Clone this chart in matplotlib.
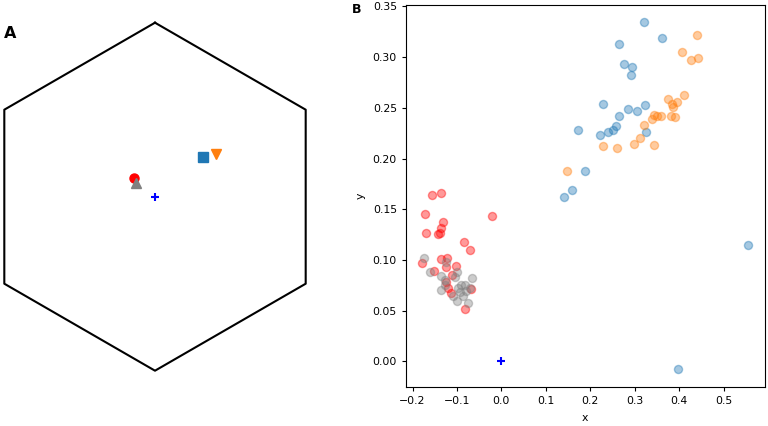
import numpy as np
import matplotlib
matplotlib.use("Agg")
import matplotlib.pyplot as plt

# --- data (panel B) ---
red_x = [-0.156, -0.136, -0.173, -0.131, -0.135, -0.139, -0.142, -0.169, -0.021, -0.085,
         -0.071, -0.135, -0.122, -0.178, -0.151, -0.125, -0.103, -0.112, -0.124, -0.120,
         -0.114, -0.069, -0.082]
red_y = [0.164, 0.166, 0.145, 0.1375, 0.132, 0.127, 0.1255, 0.1265, 0.143, 0.118,
         0.110, 0.101, 0.102, 0.097, 0.089, 0.093, 0.094, 0.085, 0.078, 0.072,
         0.067, 0.071, 0.052]
grey_x = [-0.175, -0.161, -0.137, -0.127, -0.101, -0.105, -0.066, -0.135, -0.090, -0.082,
          -0.094, -0.086, -0.101, -0.075, -0.079, -0.109, -0.127, -0.125, -0.097, -0.071]
grey_y = [0.102, 0.0885, 0.0846, 0.080, 0.0886, 0.083, 0.082, 0.070, 0.075, 0.0755,
          0.068, 0.065, 0.060, 0.058, 0.069, 0.065, 0.075, 0.0977, 0.072, 0.0725]
blue_x = [0.320, 0.362, 0.264, 0.277, 0.294, 0.292, 0.228, 0.285, 0.306, 0.324,
          0.264, 0.257, 0.251, 0.240, 0.221, 0.173, 0.326, 0.188, 0.158, 0.141,
          0.556, 0.398]
blue_y = [0.3346, 0.319, 0.313, 0.293, 0.290, 0.282, 0.2536, 0.249, 0.247, 0.253,
          0.2415, 0.2317, 0.2284, 0.2265, 0.2229, 0.2284, 0.2258, 0.1873, 0.169, 0.162,
          0.1150, -0.0078]
orange_x = [0.441, 0.407, 0.427, 0.442, 0.410, 0.374, 0.395, 0.384, 0.387, 0.344,
            0.350, 0.360, 0.382, 0.391, 0.339, 0.320, 0.313, 0.298, 0.344, 0.228,
            0.261, 0.147]
orange_y = [0.3216, 0.3046, 0.297, 0.2994, 0.2624, 0.2585, 0.2556, 0.254, 0.2513, 0.2434,
            0.242, 0.2415, 0.2415, 0.2409, 0.239, 0.2327, 0.2203, 0.214, 0.213, 0.2127,
            0.210, 0.1873]
origin = [0.0, 0.0]
x_ticks = [-0.2, -0.1, 0.0, 0.1, 0.2, 0.3, 0.4, 0.5]
y_ticks = [0.0, 0.05, 0.10, 0.15, 0.20, 0.25, 0.30, 0.35]

fig = plt.figure(figsize=(7.68, 4.26), dpi=100)
FS = 7.8

# --- panel A ---
W, H = 768, 426
cx, cy, R = 155.0, 196.7, 174.0
axA = fig.add_axes([0, 0, 312 / W, 1.0])
axA.set_xlim(-cx / R, (312 - cx) / R)
axA.set_ylim((cy - H) / R, cy / R)
axA.axis("off")
ang = np.deg2rad(90 + 60 * np.arange(7))
axA.plot(np.cos(ang), np.sin(ang), color="black", lw=1.5)
axA.plot(np.mean(red_x), np.mean(red_y), "o", color="red", ms=6.5)
axA.plot(np.mean(grey_x), np.mean(grey_y), "^", color="grey", ms=6.5)
axA.plot(np.mean(blue_x), np.mean(blue_y), "s", color="#1f77b4", ms=6.5)
axA.plot(np.mean(orange_x), np.mean(orange_y), "v", color="#ff7f0e", ms=6.5)
axA.plot(origin[0], origin[1], "+", color="blue", ms=6, mew=1.5)

# --- panel B ---
axB = fig.add_axes([406 / W, (H - 386.7) / H, (764.7 - 406) / W, (386.7 - 4.7) / H])
axB.scatter(blue_x, blue_y, s=34, color="#1f77b4", alpha=0.4)
axB.scatter(orange_x, orange_y, s=34, color="#ff7f0e", alpha=0.4)
axB.scatter(red_x, red_y, s=34, color="red", alpha=0.4)
axB.scatter(grey_x, grey_y, s=34, color="grey", alpha=0.4)
axB.plot(origin[0], origin[1], "+", color="blue", ms=6, mew=1.5)
axB.set_xticks(x_ticks)
axB.set_yticks(y_ticks)
axB.tick_params(labelsize=FS, length=3)
axB.set_xlabel("x", fontsize=FS, labelpad=5)
axB.set_ylabel("y", fontsize=FS, labelpad=5)

fig.text(4 / W, 1 - 34 / H, "A", fontsize=11.5, fontweight="bold", va="center", ha="left")
fig.text(351.5 / W, 1 - 9.5 / H, "B", fontsize=9, fontweight="bold", va="center", ha="left")

fig.savefig("out.png", dpi=100)
